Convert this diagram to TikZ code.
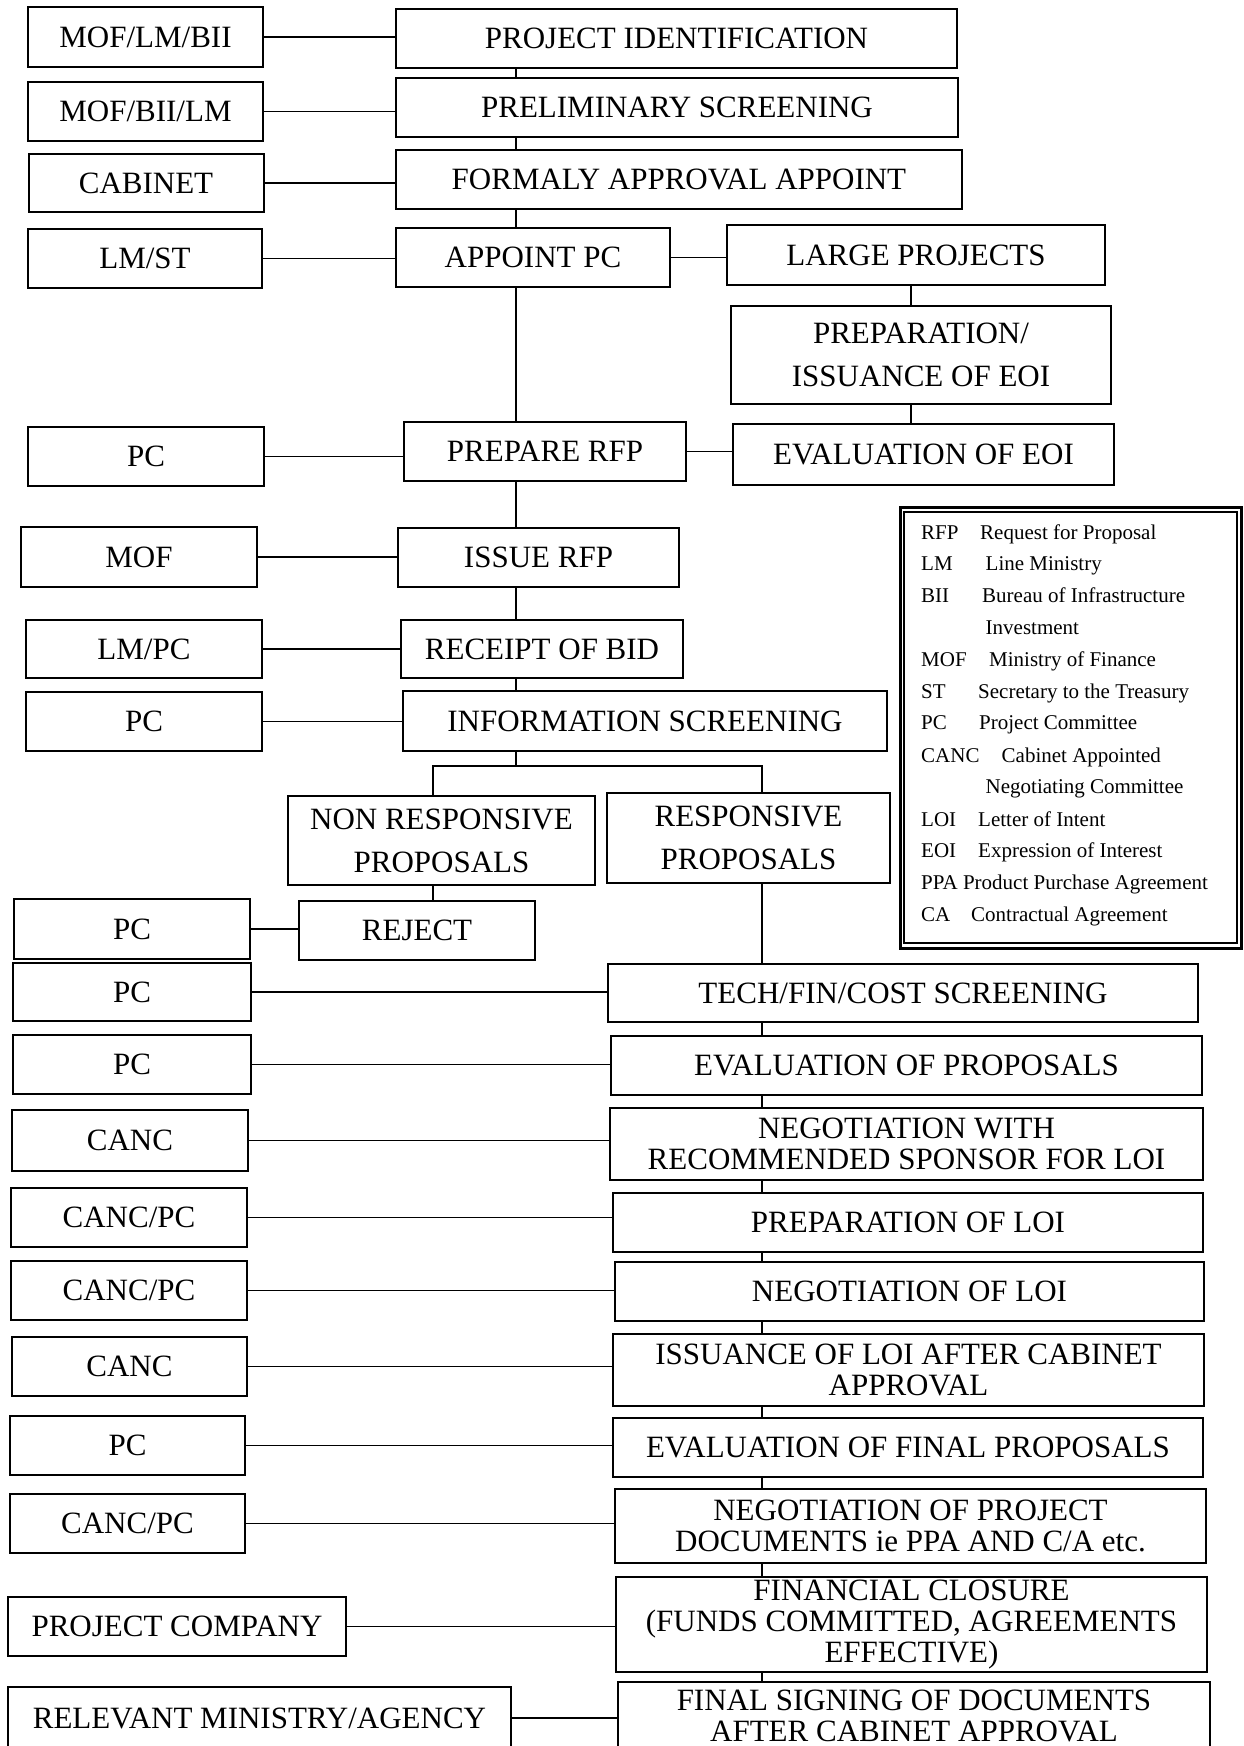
\documentclass[tikz,border=0pt]{standalone}
\usepackage{fontspec}
\setmainfont{Liberation Serif}
\begin{document}
\begin{tikzpicture}[x=1pt,y=-1pt,
        stage/.style={draw, line width=2pt, align=center, inner sep=0pt, font=\fontsize{31}{31}\selectfont},
        tall/.style={font=\fontsize{31}{43}\selectfont},
        dims/.style 2 args={minimum width=#1, minimum height=#2},
        link/.style={line width=1.8pt},
        drop/.style={line width=1.2pt},
        legtext/.style={anchor=base west, inner sep=0pt, font=\fontsize{21}{21}\selectfont}]
        \useasboundingbox (0,0) rectangle (1243,1746);
        % who
        \node[stage, dims={235}{60}] (a1) at (145.5,37) {MOF/LM/BII};
        \node[stage, dims={235}{59}] (a2) at (145.5,111.5) {MOF/BII/LM};
        \node[stage, dims={235}{58}] (a3) at (146,183) {CABINET};
        \node[stage, dims={234}{59}] (a4) at (145,258.5) {LM/ST};
        \node[stage, dims={236}{59}] (a5) at (146,456.5) {PC};
        \node[stage, dims={236}{60}] (a6) at (139,557) {MOF};
        \node[stage, dims={236}{58}] (a7) at (144,649) {LM/PC};
        \node[stage, dims={236}{59}] (a8) at (144,721.5) {PC};
        \node[stage, dims={236}{60}] (a9) at (132,929) {PC};
        \node[stage, dims={238}{58}] (a10) at (132,992) {PC};
        \node[stage, dims={238}{59}] (a11) at (132,1064.5) {PC};
        \node[stage, dims={236}{61}] (a12) at (130,1140.5) {CANC};
        \node[stage, dims={236}{59}] (a13) at (129,1217.5) {CANC/PC};
        \node[stage, dims={236}{59}] (a14) at (129,1290.5) {CANC/PC};
        \node[stage, dims={235}{59}] (a15) at (129.5,1366.5) {CANC};
        \node[stage, dims={235}{59}] (a16) at (127.5,1445.5) {PC};
        \node[stage, dims={235}{59}] (a17) at (127.5,1523.5) {CANC/PC};
        \node[stage, dims={338}{59}] (a18) at (177,1626.5) {PROJECT COMPANY};
        \node[stage, dims={503}{62}] (a19) at (259.5,1718) {RELEVANT MINISTRY/AGENCY};
        % what
        \node[stage, dims={561}{59}] (s1) at (676.5,38.5) {PROJECT IDENTIFICATION};
        \node[stage, dims={562}{59}] (s2) at (677,107.5) {PRELIMINARY SCREENING};
        \node[stage, dims={566}{59}] (s3) at (679,179.5) {FORMALY APPROVAL APPOINT};
        \node[stage, dims={274}{59}] (s4) at (533,257.5) {APPOINT PC};
        \node[stage, dims={378}{60}] (s5) at (916,255) {LARGE PROJECTS};
        \node[stage, tall, dims={380}{98}] (s6) at (921,355) {PREPARATION/\\ISSUANCE OF EOI};
        \node[stage, dims={282}{59}] (s7) at (545,451.5) {PREPARE RFP};
        \node[stage, dims={381}{61}] (s8) at (923.5,454.5) {EVALUATION OF EOI};
        \node[stage, dims={281}{59}] (s9) at (538.5,557.5) {ISSUE RFP};
        \node[stage, dims={282}{58}] (s10) at (542,649) {RECEIPT OF BID};
        \node[stage, dims={484}{60}] (s11) at (645,721) {INFORMATION SCREENING};
        \node[stage, tall, dims={307}{89}] (s12) at (441.5,840.5) {NON RESPONSIVE\\PROPOSALS};
        \node[stage, tall, dims={283}{90}] (s13) at (748.5,838) {RESPONSIVE\\PROPOSALS};
        \node[stage, dims={236}{59}] (s14) at (417,930.5) {REJECT};
        \node[stage, dims={590}{58}] (s15) at (903,993) {TECH/FIN/COST SCREENING};
        \node[stage, dims={591}{59}] (s16) at (906.5,1065.5) {EVALUATION OF PROPOSALS};
        \node[stage, dims={593}{72}] (s17) at (906.5,1144) {NEGOTIATION WITH\\RECOMMENDED SPONSOR FOR LOI};
        \node[stage, dims={590}{59}] (s18) at (908,1222.5) {PREPARATION OF LOI};
        \node[stage, dims={589}{59}] (s19) at (909.5,1291.5) {NEGOTIATION OF LOI};
        \node[stage, dims={591}{72}] (s20) at (908.5,1370) {ISSUANCE OF LOI AFTER CABINET\\APPROVAL};
        \node[stage, dims={590}{59}] (s21) at (908,1447.5) {EVALUATION OF FINAL PROPOSALS};
        \node[stage, dims={591}{74}] (s22) at (910.5,1526) {NEGOTIATION OF PROJECT\\DOCUMENTS ie PPA AND C/A etc.};
        \node[stage, dims={591}{95}] (s23) at (911.5,1624.5) {FINANCIAL CLOSURE\\(FUNDS COMMITTED, AGREEMENTS\\EFFECTIVE)};
        \node[stage, dims={592}{67}] (s24) at (914,1715.5) {FINAL SIGNING OF DOCUMENTS\\AFTER CABINET APPROVAL};
        % trunks
        \coordinate (trunk) at (516,0);
        \coordinate (spine) at (762,0);
        \coordinate (side) at (911,0);
        \coordinate (forkl) at (433,766);
        \coordinate (forkr) at (762,766);
        \draw[drop] (s1.south -| trunk) -- (s2.north -| trunk);
        \draw[drop] (s2.south -| trunk) -- (s3.north -| trunk);
        \draw[drop] (s3.south -| trunk) -- (s4.north -| trunk);
        \draw[drop] (s4.south -| trunk) -- (s7.north -| trunk);
        \draw[drop] (s7.south -| trunk) -- (s9.north -| trunk);
        \draw[drop] (s9.south -| trunk) -- (s10.north -| trunk);
        \draw[drop] (s10.south -| trunk) -- (s11.north -| trunk);
        \draw[drop] (s11.south -| trunk) -- (forkl -| trunk);
        \draw[drop] (s12.north -| forkl) -- (forkl) -- (forkr) -- (s13.north -| forkr);
        \draw[drop] (s12.south -| forkl) -- (s14.north -| forkl);
        \draw[drop] (s5.south -| side) -- (s6.north -| side);
        \draw[drop] (s6.south -| side) -- (s8.north -| side);
        \draw[drop] (s13.south -| spine) -- (s15.north -| spine);
        \draw[drop] (s15.south -| spine) -- (s16.north -| spine);
        \draw[drop] (s16.south -| spine) -- (s17.north -| spine);
        \draw[drop] (s17.south -| spine) -- (s18.north -| spine);
        \draw[drop] (s18.south -| spine) -- (s19.north -| spine);
        \draw[drop] (s19.south -| spine) -- (s20.north -| spine);
        \draw[drop] (s20.south -| spine) -- (s21.north -| spine);
        \draw[drop] (s21.south -| spine) -- (s22.north -| spine);
        \draw[drop] (s22.south -| spine) -- (s23.north -| spine);
        \draw[drop] (s23.south -| spine) -- (s24.north -| spine);
        % sides
        \draw[link] (a1.east) -- (a1.east -| s1.west);
        \draw[link] (a2.east) -- (a2.east -| s2.west);
        \draw[link] (a3.east) -- (a3.east -| s3.west);
        \draw[link] (a4.east) -- (a4.east -| s4.west);
        \draw[link] (s4.east) -- (s4.east -| s5.west);
        \draw[link] (a5.east) -- (a5.east -| s7.west);
        \draw[link] (s7.east) -- (s7.east -| s8.west);
        \draw[link] (a6.east) -- (a6.east -| s9.west);
        \draw[link] (a7.east) -- (a7.east -| s10.west);
        \draw[link] (a8.east) -- (a8.east -| s11.west);
        \draw[link] (a9.east) -- (a9.east -| s14.west);
        \draw[link] (a10.east) -- (a10.east -| s15.west);
        \draw[link] (a11.east) -- (a11.east -| s16.west);
        \draw[link] (a12.east) -- (a12.east -| s17.west);
        \draw[link] (a13.east) -- (a13.east -| s18.west);
        \draw[link] (a14.east) -- (a14.east -| s19.west);
        \draw[link] (a15.east) -- (a15.east -| s20.west);
        \draw[link] (a16.east) -- (a16.east -| s21.west);
        \draw[link] (a17.east) -- (a17.east -| s22.west);
        \draw[link] (a18.east) -- (a18.east -| s23.west);
        \draw[link] (a19.east) -- (a19.east -| s24.west);
        % legend
        \draw[line width=3pt] (900,507) rectangle (1241.5,948);
        \draw[line width=1.5pt] (904,512) rectangle (1237,943);
        \node[legtext] (k1) at (921,539) {RFP};
        \node[legtext] (d1) at (980,539) {Request for Proposal};
        \node[legtext] (k2) at (921,570) {LM};
        \node[legtext] (d2) at (985.5,570) {Line Ministry};
        \node[legtext] (k3) at (921,602.5) {BII};
        \node[legtext] (d3) at (982,602.5) {Bureau of Infrastructure};
        \node[legtext] (d3b) at (985.5,634) {Investment};
        \node[legtext] (k4) at (921,666) {MOF};
        \node[legtext] (d4) at (989,666) {Ministry of Finance};
        \node[legtext] (k5) at (921,698) {ST};
        \node[legtext] (d5) at (978,698) {Secretary to the Treasury};
        \node[legtext] (k6) at (921,729.5) {PC};
        \node[legtext] (d6) at (979,729.5) {Project Committee};
        \node[legtext] (k7) at (921,762) {CANC};
        \node[legtext] (d7) at (1001.5,762) {Cabinet Appointed};
        \node[legtext] (d7b) at (985.5,793.5) {Negotiating Committee};
        \node[legtext] (k8) at (921,826) {LOI};
        \node[legtext] (d8) at (978,826) {Letter of Intent};
        \node[legtext] (k9) at (921,857.5) {EOI};
        \node[legtext] (d9) at (978,857.5) {Expression of Interest};
        \node[legtext] (k10) at (921,889.5) {PPA Product Purchase Agreement};
        \node[legtext] (k11) at (921,921) {CA};
        \node[legtext] (d11) at (971,921) {Contractual Agreement};
    \end{tikzpicture}
\end{document}
